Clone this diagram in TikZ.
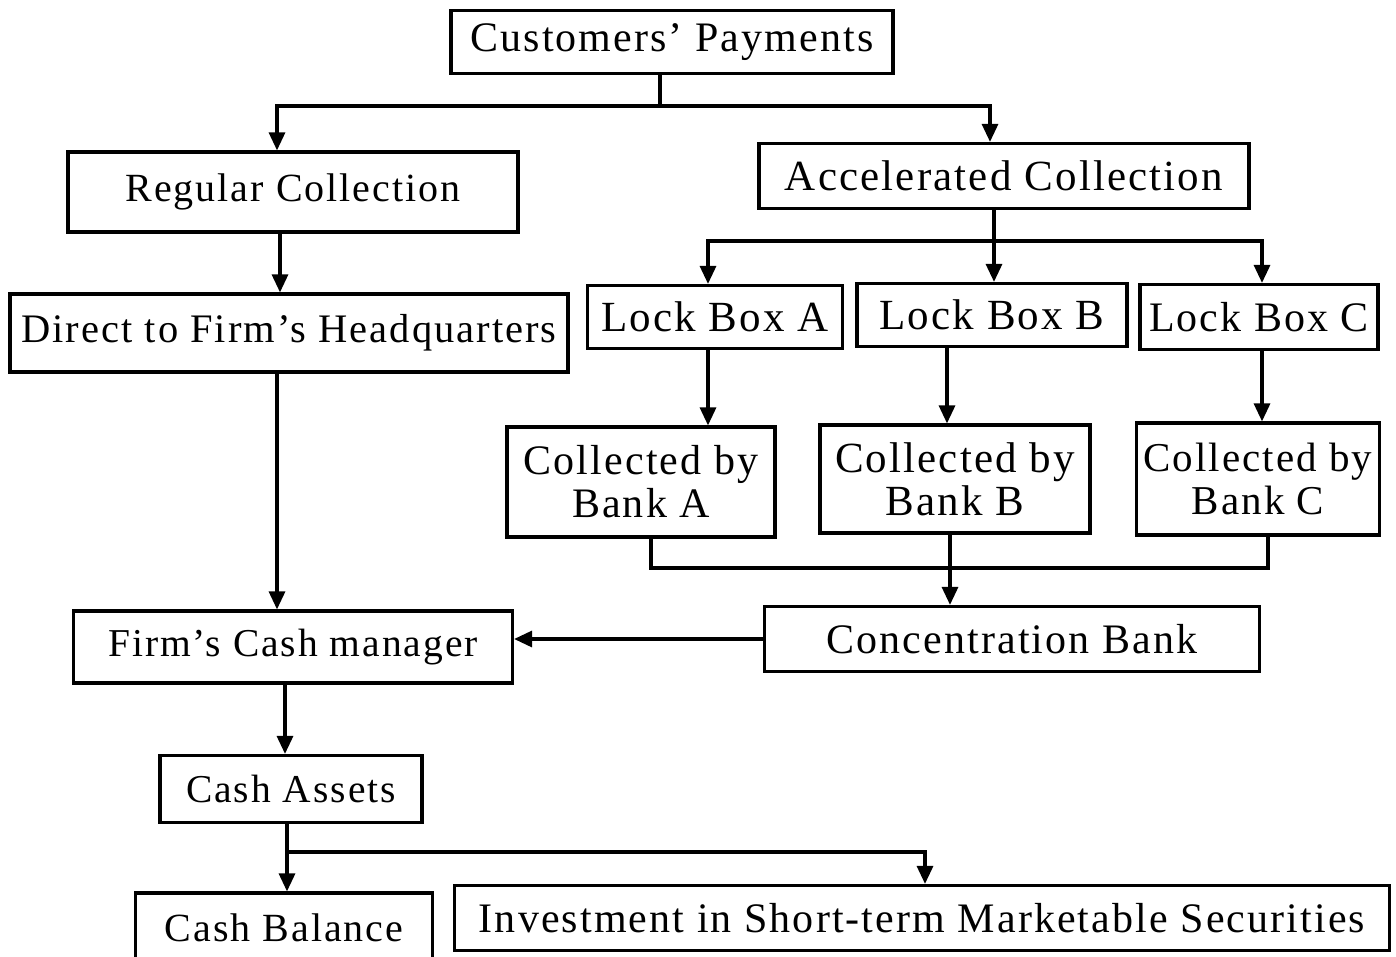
\documentclass[tikz,border=0pt]{standalone}
\usepackage{fontspec}
\usetikzlibrary{arrows.meta}
\newfontfamily\diagfont[LetterSpace=5]{Liberation Serif}
\begin{document}
\begin{tikzpicture}[x=1pt,y=-1pt,
  box/.style 2 args={draw, line width=3.2pt, inner sep=0pt, align=center,
    font={\diagfont\fontsize{#1}{#2}\selectfont}},
  conn/.style={line width=3.2pt},
  arr/.style={conn, -{Triangle[length=18pt,width=16pt]}}]
\fill[white] (0,0) rectangle (1396,957);
\useasboundingbox (0,0) rectangle (1396,957);
% nodes
\node[box={42}{48}, minimum width=442pt, minimum height=63pt] (cp) at (672,42) {Customers’ Payments};
\node[box={40}{44}, minimum width=450pt, minimum height=80pt] (rc) at (293,192) {Regular Collection};
\node[box={43}{48}, minimum width=490pt, minimum height=65pt] (ac) at (1004,176) {Accelerated Collection};
\node[box={40.5}{44}, minimum width=558pt, minimum height=78pt] (dh) at (289,333) {Direct to Firm’s Headquarters};
\node[box={43}{48}, minimum width=255pt, minimum height=63pt] (la) at (715,317) {Lock Box A};
\node[box={43}{48}, minimum width=270pt, minimum height=63pt] (lb) at (992,315) {Lock Box B};
\node[box={42}{48}, minimum width=238pt, minimum height=65pt] (lc) at (1259,317) {Lock Box C};
\node[box={42}{43}, minimum width=268pt, minimum height=110pt] (ba) at (641,482) {Collected by\\Bank A};
\node[box={43}{43}, minimum width=270pt, minimum height=108pt] (bb) at (955,479) {Collected by\\Bank B};
\node[box={41}{43}, minimum width=243pt, minimum height=112pt] (bc) at (1258,479) {Collected by\\Bank C};
\node[box={42}{48}, minimum width=495pt, minimum height=65pt] (cb) at (1012,639) {Concentration Bank};
\node[box={39.5}{44}, minimum width=439pt, minimum height=72pt] (cm) at (293,647) {Firm’s Cash manager};
\node[box={39.5}{44}, minimum width=262pt, minimum height=67pt] (ca) at (291,789) {Cash Assets};
\node[box={40}{44}, minimum width=297pt, minimum height=70pt] (cbl) at (284,928) {Cash Balance};
\node[box={42}{48}, minimum width=935pt, minimum height=65pt] (inv) at (922,918) {Investment in Short-term Marketable Securities};
% junctions
\coordinate (j1) at (660,106);
\coordinate (j2) at (994,241);
\coordinate (j3) at (950,568);
\coordinate (j4) at (287,852);
% connectors
\draw[conn] (cp.south -| j1) -- (j1);
\draw[arr] (j1) -| ([xshift=-16pt]rc.north);
\draw[arr] (j1) -| ([xshift=-14pt]ac.north);
\draw[arr] ([xshift=-13pt]rc.south) -- ([xshift=-13pt]rc.south |- dh.north);
\draw[conn] (ac.south -| j2) -- (j2);
\draw[arr] (j2) -| ([xshift=-7pt]la.north);
\draw[arr] (j2) -- (j2 |- lb.north);
\draw[arr] (j2) -| ([xshift=3pt]lc.north);
\draw[arr] ([xshift=-7pt]la.south) -- ([xshift=-7pt]la.south |- ba.north);
\draw[arr] ([xshift=-45pt]lb.south) -- ([xshift=-45pt]lb.south |- bb.north);
\draw[arr] ([xshift=3pt]lc.south) -- ([xshift=3pt]lc.south |- bc.north);
\draw[conn] ([xshift=10pt]ba.south) |- (j3);
\draw[conn] ([xshift=10pt]bc.south) |- (j3);
\draw[arr] (bb.south -| j3) -- (j3 |- cb.north);
\draw[arr] ([xshift=-12pt]dh.south) -- ([xshift=-12pt]dh.south |- cm.north);
\draw[arr] (cb.west) -- (cb.west -| cm.east);
\draw[arr] ([xshift=-8pt]cm.south) -- ([xshift=-8pt]cm.south |- ca.north);
\draw[arr] (ca.south -| j4) -- (j4 |- cbl.north);
\draw[arr] (j4) -| ([xshift=3pt]inv.north);
\end{tikzpicture}
\end{document}
